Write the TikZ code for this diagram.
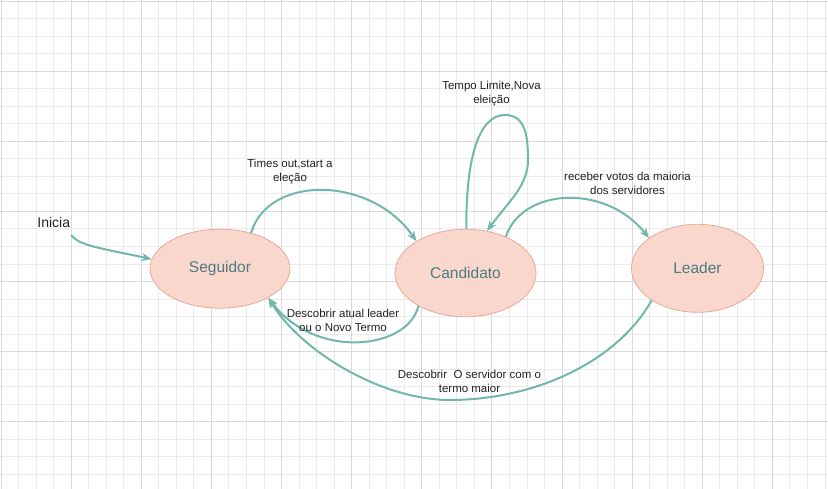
\documentclass[tikz,border=0pt]{standalone}
\usepackage{fontspec}
\setmainfont{Liberation Sans}
\usetikzlibrary{shapes.geometric,arrows.meta}
\definecolor{edgec}{HTML}{72B7AC}
\definecolor{nodefill}{HTML}{FAD7CD}
\definecolor{nodedraw}{HTML}{EAA898}
\definecolor{nodetext}{HTML}{4B7C80}
\definecolor{labeltext}{HTML}{222222}
\definecolor{gridminor}{HTML}{EBEBEB}
\definecolor{gridmajor}{HTML}{DADADA}
\begin{document}
\begin{tikzpicture}[x=1pt,y=-1pt,
  state/.style={ellipse,draw=nodedraw,fill=nodefill,line width=0.8pt,inner sep=0pt,text=nodetext,font=\fontsize{15.5}{18}\selectfont},
  edge/.style={draw=edgec,line width=2pt,-{Stealth[length=10pt,width=8pt,inset=3pt]}},
  lbl/.style={align=center,text=labeltext,font=\fontsize{11.5}{14}\selectfont,inner sep=0pt},
  gmin/.style={draw=gridminor,line width=0.8pt},
  gmaj/.style={draw=gridmajor,line width=0.8pt}]
\fill[white] (0,0) rectangle (828,489);
\useasboundingbox (0,0) rectangle (828,489);
% grid
\foreach \i in {0,...,47} {\pgfmathsetmacro\xx{1+17.53*\i}\draw[gmin] (\xx,0) -- (\xx,489);}
\foreach \i in {0,...,27} {\pgfmathsetmacro\yy{1+17.53*\i}\draw[gmin] (0,\yy) -- (828,\yy);}
\foreach \i in {0,4,...,44} {\pgfmathsetmacro\xx{1+17.53*\i}\draw[gmaj] (\xx,0) -- (\xx,489);}
\foreach \i in {0,4,...,24} {\pgfmathsetmacro\yy{1+17.53*\i}\draw[gmaj] (0,\yy) -- (828,\yy);}
% states
\node[state,minimum width=140pt,minimum height=79pt] (seg) at (220,268.7) {Seguidor};
\node[state,minimum width=141pt,minimum height=87.5pt] (cand) at (465.5,273) {Candidato};
\node[state,minimum width=132pt,minimum height=88pt] (led) at (697.5,268.3) {Leader};
% start
\node[lbl,font=\fontsize{14}{16}\selectfont] (ini) at (53.7,222.5) {Inicia};
\coordinate (inistart) at (71,235);
\draw[edge] (inistart) .. controls (80,246) and (100,248) .. (seg.172);
% edges
\draw[edge] (seg.49) .. controls (268,175) and (370,175) .. (cand.147);
\draw[edge] (cand.89) .. controls (466,160) and (478,115) .. (505,115) .. controls (525,115) and (528,135) .. (528,160) .. controls (528,185) and (510,200) .. (cand.63);
\draw[edge] (cand.42) .. controls (522,188) and (605,183) .. (led.148);
\draw[edge] (cand.-145) .. controls (408,350) and (315,360) .. (seg.-31);
\draw[edge] (led.-145) .. controls (615,365) and (530,400) .. (450,400) .. controls (380,400) and (300,350) .. (seg.-31);
% labels
\node[lbl] (l1) at (290,172) {Times out,start a\\eleção};
\node[lbl] (l2) at (491.5,93.8) {Tempo Limite,Nova\\eleição};
\node[lbl] (l3) at (627.5,183.8) {receber votos da maioria\\dos servidores};
\node[lbl] (l4) at (343,320.8) {Descobrir atual leader\\ou o Novo Termo};
\node[lbl] (l5) at (469.5,381) {Descobrir~~O servidor com o\\termo maior};
\end{tikzpicture}
\end{document}
